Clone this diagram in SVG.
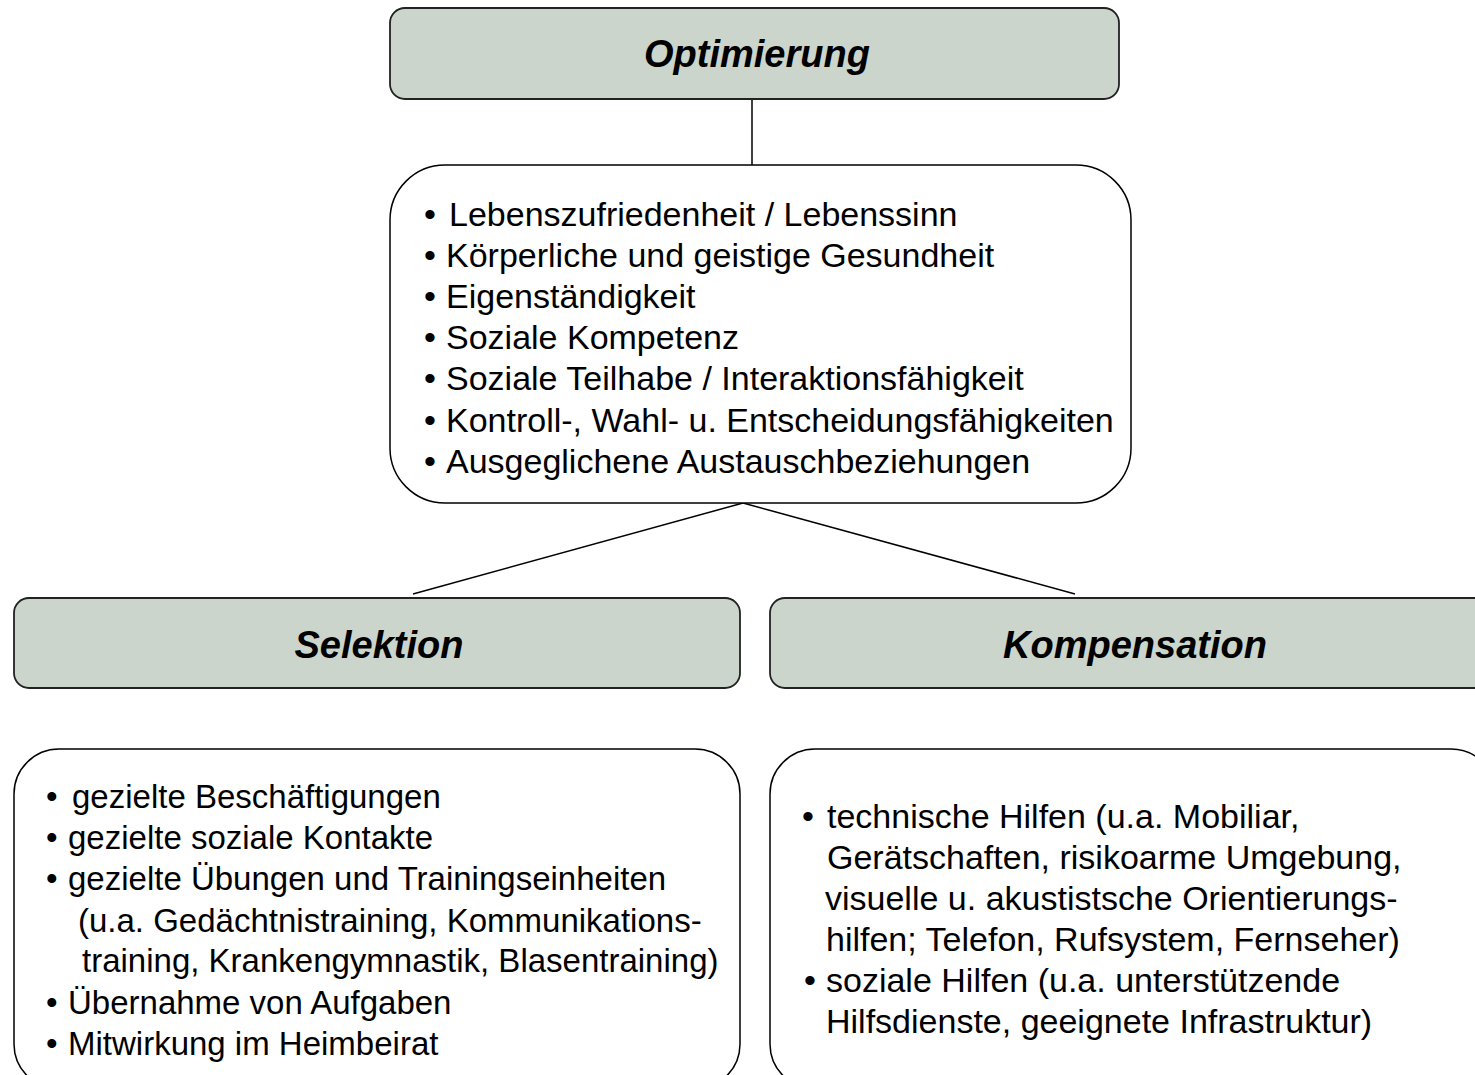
<svg xmlns="http://www.w3.org/2000/svg" width="1475" height="1075" viewBox="0 0 1475 1075">
<style>
.hdr{fill:#cbd5cb;stroke:#222;stroke-width:1.8}
.box{fill:#ffffff;stroke:#000;stroke-width:1.5}
.conn{stroke:#000;stroke-width:1.5;fill:none}
.t{font-family:"Liberation Sans",Arial,sans-serif;font-size:34px;fill:#000}
.s{font-size:33px}
.h{font-family:"Liberation Sans",Arial,sans-serif;font-size:38px;font-weight:bold;font-style:italic;fill:#000;text-anchor:middle}
</style>
<rect width="1475" height="1075" fill="#ffffff"/>
<g id="connectors">
<line class="conn" x1="752" y1="99" x2="752" y2="165"/>
<line class="conn" x1="743" y1="503" x2="413" y2="594"/>
<line class="conn" x1="743" y1="503" x2="1075" y2="594"/>
</g>
<g id="optimierung">
<rect class="hdr" x="390" y="8" width="729" height="91" rx="15" ry="15"/>
<text class="h" x="757" y="67">Optimierung</text>
</g>
<g id="ziele">
<rect class="box" x="390" y="165" width="741" height="338" rx="55" ry="55"/>
<text class="t" x="424" y="226">•</text><text class="t" x="449" y="226">Lebenszufriedenheit / Lebenssinn</text>
<text class="t" x="424" y="267">•</text><text class="t" x="446" y="267">Körperliche und geistige Gesundheit</text>
<text class="t" x="424" y="308">•</text><text class="t" x="446" y="308">Eigenständigkeit</text>
<text class="t" x="424" y="349">•</text><text class="t" x="446" y="349">Soziale Kompetenz</text>
<text class="t" x="424" y="390">•</text><text class="t" x="446" y="390">Soziale Teilhabe / Interaktionsfähigkeit</text>
<text class="t" x="424" y="432">•</text><text class="t" x="446" y="432">Kontroll-, Wahl- u. Entscheidungsfähigkeiten</text>
<text class="t" x="424" y="473">•</text><text class="t" x="446" y="473">Ausgeglichene Austauschbeziehungen</text>
</g>
<g id="selektion">
<rect class="hdr" x="14" y="598" width="726" height="90" rx="15" ry="15"/>
<text class="h" x="379" y="658">Selektion</text>
</g>
<g id="kompensation">
<rect class="hdr" x="770" y="598" width="726" height="90" rx="15" ry="15"/>
<text class="h" x="1135" y="658">Kompensation</text>
</g>
<g id="selektion-inhalt">
<rect class="box" x="14" y="749" width="726" height="340" rx="45" ry="45"/>
<text class="t s" x="46" y="808">•</text><text class="t s" x="72" y="808">gezielte Beschäftigungen</text>
<text class="t s" x="46" y="849">•</text><text class="t s" x="68" y="849">gezielte soziale Kontakte</text>
<text class="t s" x="46" y="890">•</text><text class="t s" x="68" y="890">gezielte Übungen und Trainingseinheiten</text>
<text class="t s" x="78" y="932">(u.a. Gedächtnistraining, Kommunikations-</text>
<text class="t s" x="82" y="972">training, Krankengymnastik, Blasentraining)</text>
<text class="t s" x="46" y="1014">•</text><text class="t s" x="68" y="1014">Übernahme von Aufgaben</text>
<text class="t s" x="46" y="1055">•</text><text class="t s" x="68" y="1055">Mitwirkung im Heimbeirat</text>
</g>
<g id="kompensation-inhalt">
<rect class="box" x="770" y="749" width="726" height="340" rx="45" ry="45"/>
<text class="t" x="802" y="828">•</text><text class="t" x="827" y="828">technische Hilfen (u.a. Mobiliar,</text>
<text class="t" x="827" y="869">Gerätschaften, risikoarme Umgebung,</text>
<text class="t" x="825" y="910">visuelle u. akustistsche Orientierungs-</text>
<text class="t" x="826" y="951">hilfen; Telefon, Rufsystem, Fernseher)</text>
<text class="t" x="804" y="992">•</text><text class="t" x="826" y="992">soziale Hilfen (u.a. unterstützende</text>
<text class="t" x="826" y="1033">Hilfsdienste, geeignete Infrastruktur)</text>
</g>
</svg>
